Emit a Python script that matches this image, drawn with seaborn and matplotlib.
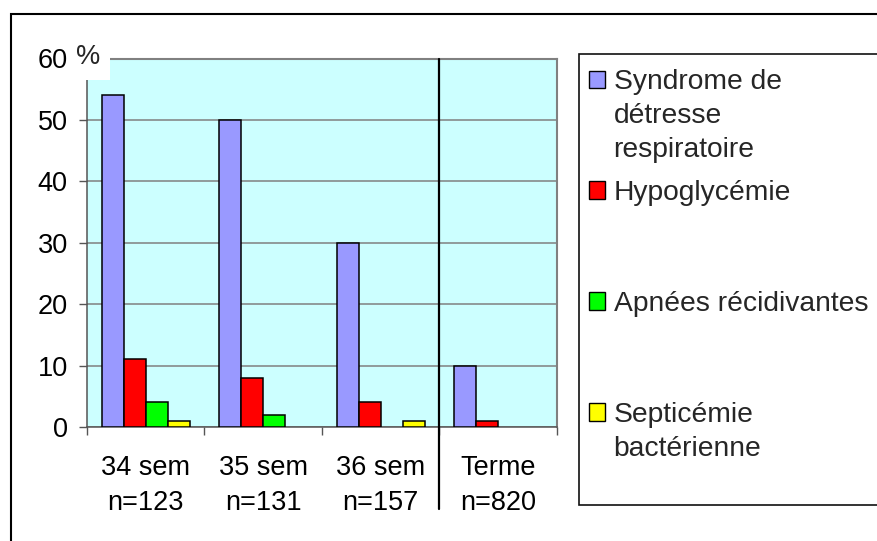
import matplotlib
matplotlib.use("Agg")
import matplotlib.pyplot as plt
from matplotlib.patches import Rectangle
from matplotlib.lines import Line2D
from matplotlib.font_manager import FontProperties
import pandas as pd
import seaborn as sns

# ---------------- data ----------------
categories = ["34 sem\nn=123", "35 sem\nn=131", "36 sem\nn=157", "Terme\nn=820"]
series_names = ["Syndrome de\ndétresse\nrespiratoire", "Hypoglycémie",
                "Apnées récidivantes", "Septicémie\nbactérienne"]
detresse = [54, 50, 30, 10]
hypoglycemie = [11, 8, 4, 1]
apnees = [4, 2, 0, 0]
septicemie = [1, 0, 1, 0]
y_ticks = [0, 10, 20, 30, 40, 50, 60]
colors = ["#9999FF", "#FF0000", "#00FF00", "#FFFF00"]

# ---------------- style ----------------
W, H, DPI = 878, 541, 100
sns.set_theme(style="white")
plt.rcParams["font.family"] = ["Liberation Sans", "DejaVu Sans"]
FS = 19.5
FS_LEG = 20.3
AXCOL = "#555555"
GRIDCOL = "#808080"

rows = []
for name, vals in zip(series_names, [detresse, hypoglycemie, apnees, septicemie]):
    for cat, v in zip(categories, vals):
        if v > 0:
            rows.append({"cat": cat, "serie": name, "val": v})
df = pd.DataFrame(rows)

fig = plt.figure(figsize=(W / DPI, H / DPI), dpi=DPI)
fig.patch.set_facecolor("white")

L, R, T, B = 87, 557, 58.5, 427
ax = fig.add_axes([L / W, 1 - B / H, (R - L) / W, (B - T) / H])
ax.set_facecolor("#CCFFFF")

sns.barplot(data=df, x="cat", y="val", hue="serie", order=categories,
            hue_order=series_names, palette=colors, edgecolor="black",
            linewidth=1.1, width=0.75, gap=0, saturation=1, errorbar=None,
            legend=False, ax=ax, zorder=3)

ax.set_xlim(-0.5, 3.5)
ax.set_ylim(0, 60)
ax.set_xlabel("")
ax.set_ylabel("")

# y axis
ax.set_yticks(y_ticks)
ax.set_yticklabels([str(v) for v in y_ticks])
ax.yaxis.grid(True, color=GRIDCOL, linewidth=1.1, zorder=1)
ax.xaxis.grid(False)
ax.set_axisbelow(True)
ax.tick_params(axis="y", direction="out", length=5.8, width=1.0, color=AXCOL,
               pad=8, labelsize=FS, labelcolor="black", left=True)

# x axis: boundary ticks (major) + centered labels (minor)
ax.set_xticks([-0.5, 0.5, 1.5, 2.5, 3.5])
ax.set_xticklabels([])
ax.set_xticks([0, 1, 2, 3], minor=True)
ax.set_xticklabels(categories, minor=True)
ax.tick_params(axis="x", which="major", direction="out", length=5.8, width=1.0,
               color=AXCOL, bottom=True)
ax.tick_params(axis="x", which="minor", length=0, pad=20.5, labelsize=FS,
               labelcolor="black", bottom=True)

for s in ["left", "bottom"]:
    ax.spines[s].set_color(AXCOL)
    ax.spines[s].set_linewidth(1.1)
for s in ["top", "right"]:
    ax.spines[s].set_color(GRIDCOL)
    ax.spines[s].set_linewidth(1.5)

# separator between preterm groups and term
sep = Line2D([2.5, 2.5], [1.0, (B - 509) / (B - T)], color="black", linewidth=1.6,
             transform=ax.get_xaxis_transform(), clip_on=False, zorder=5)
ax.add_line(sep)

# "%" unit label with white box covering the top-left corner of the plot area
fig.patches.append(Rectangle((76 / W, 1 - 80 / H), (110 - 76) / W, (80 - 36) / H,
                             facecolor="white", edgecolor="none",
                             transform=fig.transFigure, figure=fig, zorder=20))
fig.text(88 / W, 1 - 57 / H, "%", fontsize=FS, ha="center", va="center", zorder=21)

# outer chart border (cut at right/bottom)
fig.patches.append(Rectangle((11 / W, -0.2), 1.5, (1 - 14 / H) + 0.2, fill=False,
                             edgecolor="black", linewidth=1.5,
                             transform=fig.transFigure, figure=fig))
# legend frame (extends past right edge)
fig.patches.append(Rectangle((579 / W, 1 - 505 / H), 1.0, (505 - 54) / H,
                             facecolor="white", edgecolor="#111111", linewidth=1.2,
                             transform=fig.transFigure, figure=fig))

# legend
handles = [Rectangle((0, 0), 1, 1, facecolor=c, edgecolor="black", linewidth=1.0)
           for c in colors]
nmax = max(s.count("\n") + 1 for s in series_names)
padded = [s + "\n" * (nmax - (s.count("\n") + 1)) for s in series_names]
leg = fig.legend(handles, padded, loc="upper left",
                 bbox_to_anchor=(589 / W, 1 - 69 / H), frameon=False,
                 fontsize=FS_LEG, handlelength=0.57, handleheight=0.57,
                 handletextpad=0.3, labelspacing=0.6, borderpad=0,
                 borderaxespad=0)

# line spacing of multi-line texts
fig.canvas.draw()
r = fig.canvas.get_renderer()
fp_leg = FontProperties(family=["Liberation Sans", "DejaVu Sans"], size=FS_LEG)
fp_tick = FontProperties(family=["Liberation Sans", "DejaVu Sans"], size=FS)
_, lh1, ld1 = r.get_text_width_height_descent("lp", fp_leg, ismath=False)
_, lh2, ld2 = r.get_text_width_height_descent("lp", fp_tick, ismath=False)
ls_leg = (34 - ld1) / (lh1 - ld1)
ls_tick = (35 - ld2) / (lh2 - ld2)
for t in leg.get_texts():
    t.set_linespacing(ls_leg)
for t in ax.get_xticklabels(minor=True):
    t.set_linespacing(ls_tick)

fig.canvas.draw()
r = fig.canvas.get_renderer()
# align each legend marker with the first line of its label
for hnd, t in zip(leg.legend_handles, leg.get_texts()):
    tb = t.get_window_extent(r)
    hb = hnd.get_window_extent(r)
    dy = (tb.y1 - 1.5) - hb.y1
    hnd.set_y(hnd.get_y() + dy * 72 / DPI)

fig.savefig("out.png", dpi=DPI, facecolor="white")
